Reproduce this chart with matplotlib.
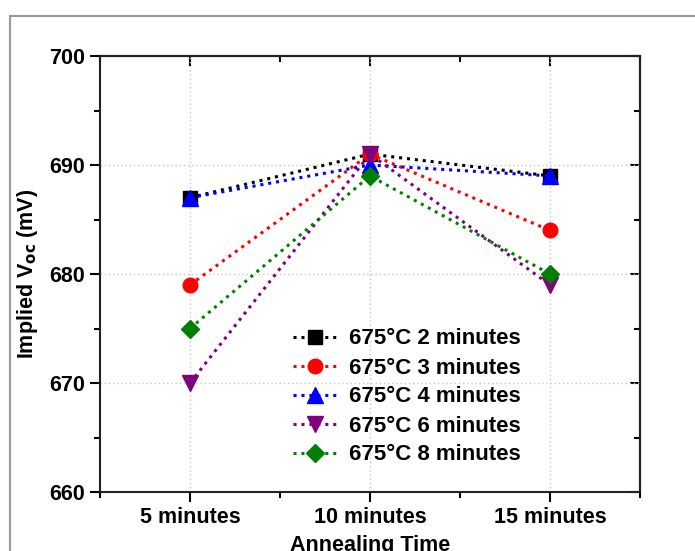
import matplotlib

matplotlib.use("Agg")
import matplotlib.pyplot as plt
from matplotlib.patches import Rectangle
from matplotlib.ticker import MultipleLocator

plt.rcParams["font.family"] = ["Liberation Sans", "DejaVu Sans"]
plt.rcParams["font.weight"] = "bold"

# data
x_labels = ["5 minutes", "10 minutes", "15 minutes"]
x_pos = [1, 2, 3]
series_names = [
    "675°C 2 minutes",
    "675°C 3 minutes",
    "675°C 4 minutes",
    "675°C 6 minutes",
    "675°C 8 minutes",
]
voc_2min = [687, 691, 689]
voc_3min = [679, 691, 684]
voc_4min = [687, 690, 689]
voc_6min = [670, 691, 679]
voc_8min = [675, 689, 680]

series_values = [voc_2min, voc_3min, voc_4min, voc_6min, voc_8min]
colors = ["black", "red", "blue", "#800080", "#008000"]
markers = ["s", "o", "^", "v", "D"]
sizes = [9.5, 10.5, 11, 11, 9.5]

fig = plt.figure(figsize=(6.95, 5.51), dpi=100)
ax = fig.add_axes([100 / 695, 1 - 492 / 551, 540 / 695, 436 / 551])

# grey frame around the figure, as in the source picture
fig.patches.append(
    Rectangle((10 / 695, -0.1), 1.2, 1 - 16 / 551 + 0.1, transform=fig.transFigure,
              fill=False, edgecolor="#999999", linewidth=1.5)
)

for name, vals, color, marker, ms in zip(series_names, series_values, colors, markers, sizes):
    ax.plot(x_pos, vals, linestyle=(0, (1, 1.6)), linewidth=2.2, color=color,
            marker=marker, markersize=ms, label=name, zorder=3)

ax.set_xlim(0.5, 3.5)
ax.set_ylim(660, 700)
ax.set_xticks(x_pos)
ax.set_xticklabels(x_labels)
ax.xaxis.set_minor_locator(MultipleLocator(0.5))
ax.yaxis.set_major_locator(MultipleLocator(10))
ax.yaxis.set_minor_locator(MultipleLocator(5))

ax.grid(True, which="major", linestyle=(0, (1, 2)), color="#c8c8c8", linewidth=1)

for side in ["left", "bottom", "top", "right"]:
    ax.spines[side].set_linewidth(1.5)
    ax.spines[side].set_color("#222222")

ax.tick_params(axis="both", which="major", direction="out", length=7, width=1.5,
               labelsize=15.5, pad=4)
ax.tick_params(axis="both", which="minor", direction="out", length=4, width=1.5)
# mirrored ticks on top/right point inward
sec_x = ax.secondary_xaxis("top")
sec_x.set_xticks(x_pos)
sec_x.set_xticklabels([])
sec_x.xaxis.set_minor_locator(MultipleLocator(0.5))
sec_x.tick_params(which="major", direction="in", length=7, width=1.5)
sec_x.tick_params(which="minor", direction="in", length=4, width=1.5)
sec_x.spines["top"].set_linewidth(1.5)
sec_y = ax.secondary_yaxis("right")
sec_y.yaxis.set_major_locator(MultipleLocator(10))
sec_y.yaxis.set_minor_locator(MultipleLocator(5))
sec_y.set_yticklabels([])
sec_y.tick_params(which="major", direction="in", length=7, width=1.5)
sec_y.tick_params(which="minor", direction="in", length=4, width=1.5)
sec_y.spines["right"].set_linewidth(1.5)

for lbl in ax.get_xticklabels() + ax.get_yticklabels():
    lbl.set_fontweight("bold")

ax.set_xlabel("Annealing Time", fontsize=15.5, fontweight="bold", labelpad=5)
ax.set_ylabel("Implied V$_{\\mathbf{oc}}$ (mV)", fontsize=15.5, fontweight="bold", labelpad=6)

leg = ax.legend(loc="upper left", bbox_to_anchor=(0.357, 0.375), frameon=False,
                prop={"weight": "bold", "size": 16}, handlelength=2.0,
                handletextpad=0.55, labelspacing=0.36, borderaxespad=0, borderpad=0)

fig.savefig("out.png", dpi=100)
